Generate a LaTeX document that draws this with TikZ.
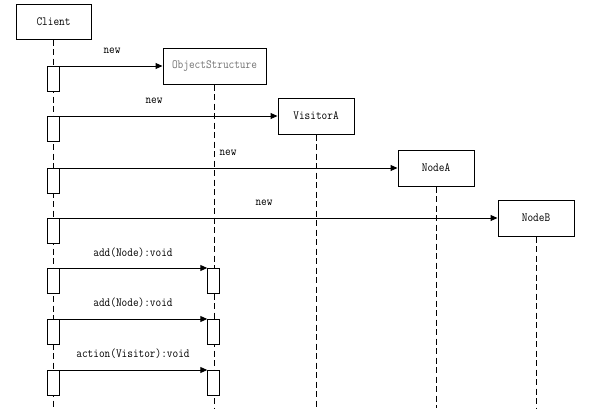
\documentclass[tikz,border=0pt]{standalone}
\usepackage{fontspec}
\setmonofont[FakeStretch=0.88]{Latin Modern Mono}
\usetikzlibrary{arrows.meta}
\begin{document}
\begin{tikzpicture}[x=1pt,y=-1pt,
  txt/.style={font=\ttfamily\fontsize{12.5}{13}\selectfont},
  obj/.style={draw,line width=1pt,fill=white,inner sep=0pt,minimum height=36pt,txt},
  act/.style={draw,line width=1pt,fill=white,inner sep=0pt,minimum width=11.5pt,minimum height=25pt,anchor=north},
  life/.style={line width=1pt,dash pattern=on 6pt off 3.5pt},
  msg/.style={line width=1pt,-{Triangle[length=7pt,width=6pt]}},
  lbl/.style={txt,inner sep=0pt}]
\useasboundingbox (0,0) rectangle (599,408);
% objects
\node[obj,minimum width=75pt,minimum height=35pt] (client) at (53.5,21.5) {Client};
\node[obj,minimum width=103pt,text=black!55] (os) at (214.5,66) {ObjectStructure};
\node[obj,minimum width=76pt] (va) at (316,116) {VisitorA};
\node[obj,minimum width=76pt] (na) at (436,168) {NodeA};
\node[obj,minimum width=76pt] (nb) at (536,218) {NodeB};
% lifeline ends
\coordinate (clientE) at (53.5,408);
\coordinate (osE) at (214.5,408);
\coordinate (vaE) at (316,408);
\coordinate (naE) at (436,408);
\coordinate (nbE) at (536,408);
\draw[life] (client.south) -- (clientE);
\draw[life] (os.south) -- (osE);
\draw[life] (va.south) -- (vaE);
\draw[life] (na.south) -- (naE);
\draw[life] (nb.south) -- (nbE);
% activations on Client
\node[act] (c1) at (53.5,66) {};
\node[act] (c2) at (53.5,116) {};
\node[act] (c3) at (53.5,168) {};
\node[act] (c4) at (53.5,218) {};
\node[act] (c5) at (53.5,268) {};
\node[act] (c6) at (53.5,319) {};
\node[act] (c7) at (53.5,370) {};
% activations on ObjectStructure
\node[act] (o5) at (213.5,268) {};
\node[act] (o6) at (213.5,319) {};
\node[act] (o7) at (213.5,370) {};
% messages
\draw[msg] (c1.north east) -- (os.west);
\draw[msg] (c2.north east) -- (va.west);
\draw[msg] (c3.north east) -- (na.west);
\draw[msg] (c4.north east) -- (nb.west);
\draw[msg] (c5.north east) -- (o5.north west);
\draw[msg] (c6.north east) -- (o6.north west);
\draw[msg] (c7.north east) -- (o7.north west);
% labels
\node[lbl] (l1) at (112,51) {new};
\node[lbl] (l2) at (154,101) {new};
\node[lbl] (l3) at (228,153) {new};
\node[lbl] (l4) at (264,203) {new};
\node[lbl] (l5) at (133,253) {add(Node):void};
\node[lbl] (l6) at (133,303) {add(Node):void};
\node[lbl] (l7) at (133,354) {action(Visitor):void};
\end{tikzpicture}
\end{document}
